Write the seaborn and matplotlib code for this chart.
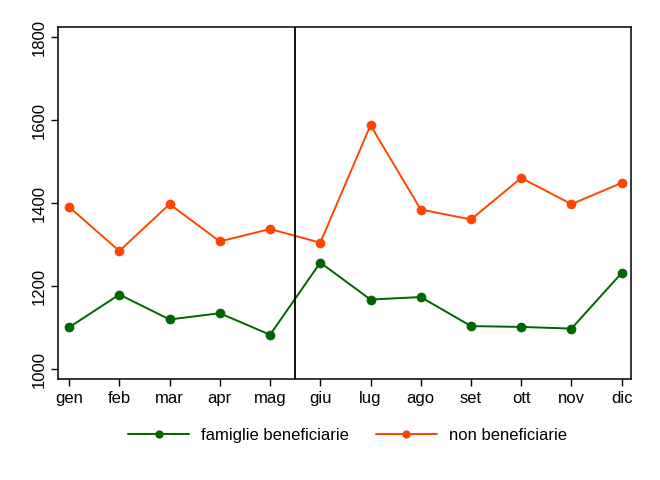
import pandas as pd
import seaborn as sns
import matplotlib as mpl
mpl.use('Agg')
import matplotlib.pyplot as plt

mesi = ['gen', 'feb', 'mar', 'apr', 'mag', 'giu', 'lug', 'ago', 'set', 'ott', 'nov', 'dic']
beneficiarie = [1101, 1180, 1120, 1135, 1083, 1257, 1168, 1174, 1104, 1102, 1098, 1232]
non_beneficiarie = [1391, 1285, 1398, 1308, 1338, 1305, 1588, 1385, 1361, 1461, 1398, 1449]

df = pd.DataFrame({
    'mese': mesi * 2,
    'valore': beneficiarie + non_beneficiarie,
    'gruppo': ['famiglie beneficiarie'] * 12 + ['non beneficiarie'] * 12,
})

sns.set_style('white')
plt.rcParams['font.family'] = ['Liberation Sans', 'DejaVu Sans']
plt.rcParams['text.color'] = 'black'

fig = plt.figure(figsize=(6.6, 4.8), dpi=100)
ax = fig.add_axes([0.088, 0.21, 0.868, 0.733])

sns.lineplot(data=df, x='mese', y='valore', hue='gruppo', sort=False,
             palette={'famiglie beneficiarie': '#006400', 'non beneficiarie': '#ff4500'},
             marker='o', markersize=7, markeredgewidth=0, linewidth=1.4, ax=ax)

ax.axvline(4.5, color='black', linewidth=1.3)

ax.set_xlim(-0.22, 11.185)
ax.set_ylim(976, 1824)
ax.set_yticks([1000, 1200, 1400, 1600, 1800])
ax.set_xlabel('')
ax.set_ylabel('')
for s in ax.spines.values():
    s.set_color('black')
    s.set_linewidth(1.1)
ax.tick_params(axis='both', direction='out', length=5, width=1, colors='black',
               labelsize=12, left=True, bottom=True)
for lab in ax.get_yticklabels():
    lab.set_rotation(90)
    lab.set_va('center')

leg = ax.legend(loc='upper center', bbox_to_anchor=(0.505, -0.095), ncol=2, frameon=False,
                fontsize=12, handlelength=3.7, handletextpad=0.7, columnspacing=1.6,
                markerscale=0.85)
for t in leg.get_texts():
    t.set_color('black')

fig.savefig('out.png', dpi=100)
